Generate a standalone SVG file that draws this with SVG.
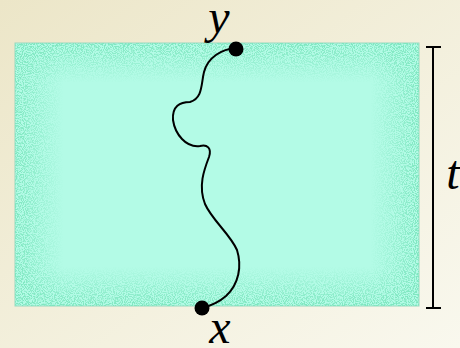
<svg xmlns="http://www.w3.org/2000/svg" width="460" height="348" viewBox="0 0 460 348">
<defs>
<linearGradient id="bg" x1="0" y1="0" x2="1" y2="1">
<stop offset="0" stop-color="#ece6c8"/>
<stop offset="1" stop-color="#f9f8ee"/>
</linearGradient>
<linearGradient id="hg" x1="0" y1="0" x2="1" y2="0">
<stop offset="0" stop-color="#fff" stop-opacity="1"/>
<stop offset="0.12" stop-color="#fff" stop-opacity="0"/>
<stop offset="0.88" stop-color="#fff" stop-opacity="0"/>
<stop offset="1" stop-color="#fff" stop-opacity="1"/>
</linearGradient>
<linearGradient id="vg" x1="0" y1="0" x2="0" y2="1">
<stop offset="0" stop-color="#fff" stop-opacity="1"/>
<stop offset="0.15" stop-color="#fff" stop-opacity="0"/>
<stop offset="0.85" stop-color="#fff" stop-opacity="0"/>
<stop offset="1" stop-color="#fff" stop-opacity="1"/>
</linearGradient>
<mask id="edge" maskUnits="userSpaceOnUse" x="0" y="0" width="460" height="348">
<rect x="15" y="43" width="404" height="263" fill="#000"/>
<rect x="15" y="43" width="404" height="263" fill="url(#hg)"/>
<rect x="15" y="43" width="404" height="263" fill="url(#vg)"/>
</mask>
<filter id="noise" x="0" y="0" width="1" height="1">
<feTurbulence type="fractalNoise" baseFrequency="0.9" numOctaves="2" seed="3" result="n"/>
<feColorMatrix in="n" type="matrix" values="0 0 0 0 0  0 0 0 0 0  0 0 0 0 0  0 0 0 6 -2.6" result="a"/>
<feComposite in="SourceGraphic" in2="a" operator="in"/>
</filter>
<style>
.lbl{font-family:"Liberation Serif","DejaVu Serif",serif;font-style:italic;font-size:48px;fill:#000;text-anchor:middle}
.ln{fill:none;stroke:#000;stroke-width:2}
</style>
</defs>
<rect width="460" height="348" fill="url(#bg)"/>
<g id="region">
<rect x="15" y="43" width="404" height="263" fill="#b3fbe6" stroke="#9ad8bf" stroke-width="1"/>
<g mask="url(#edge)">
<rect x="15" y="43" width="404" height="263" fill="#7ee6bf" filter="url(#noise)"/>
</g>
</g>
<g id="connectors">
<path class="ln" d="M236,48 C222,49 208,57 204,72 C201,84 203,98 190,102 C180,102 172,106 173,120 C175,134 186,148 200,146 C207,144 212,148 209,157 C204,170 198,186 205,204 C212,220 230,234 237,250 C242,266 239,284 226,296 C218,303 210,306 202,308"/>
</g>
<g id="y">
<circle cx="236" cy="49" r="7.5" fill="#000"/>
<text class="lbl" x="219" y="33">y</text>
</g>
<g id="x">
<circle cx="202" cy="308" r="7.5" fill="#000"/>
<text class="lbl" x="220" y="343">x</text>
</g>
<g id="t">
<path class="ln" d="M433,47 V308 M426,47 H441 M426,308 H441"/>
<text class="lbl" x="453" y="189">t</text>
</g>
</svg>
